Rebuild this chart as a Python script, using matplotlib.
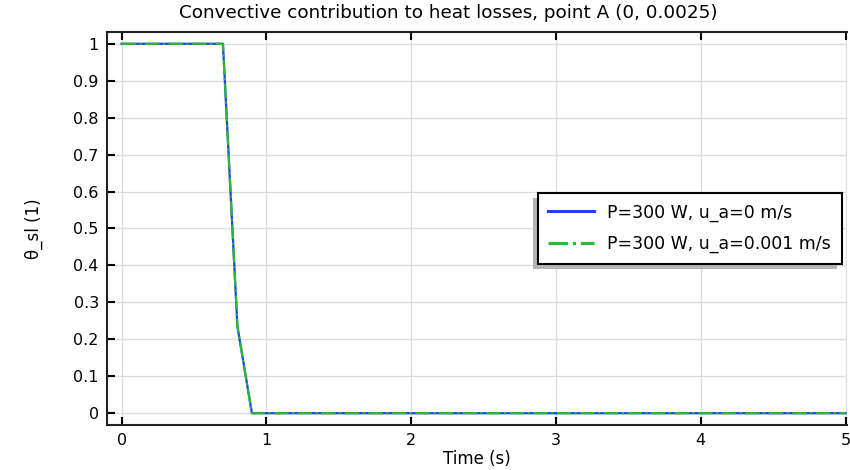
import matplotlib
matplotlib.use("Agg")
import matplotlib.pyplot as plt
from matplotlib.patches import Rectangle

# Data
time_s = [0.0, 0.1, 0.2, 0.3, 0.4, 0.5, 0.6, 0.7, 0.8, 0.9, 1.0, 2.0, 3.0, 4.0, 5.0]
theta_ua0 = [1, 1, 1, 1, 1, 1, 1, 1, 0.235, 0, 0, 0, 0, 0, 0]
theta_ua001 = [1, 1, 1, 1, 1, 1, 1, 1, 0.235, 0, 0, 0, 0, 0, 0]
series_labels = ["P=300 W, u_a=0 m/s", "P=300 W, u_a=0.001 m/s"]
x_ticks = [0, 1, 2, 3, 4, 5]
y_ticks = [0, 0.1, 0.2, 0.3, 0.4, 0.5, 0.6, 0.7, 0.8, 0.9, 1]

plt.rcParams["font.family"] = "DejaVu Sans"

fig = plt.figure(figsize=(8.5, 4.7), dpi=100)
ax = fig.add_axes([0.126, 0.0957, 0.8705, 0.8363])

ax.plot(time_s, theta_ua0, color="#1f3fff", linewidth=1.6, label=series_labels[0])
ax.plot(time_s, theta_ua001, color="#2db92d", linewidth=1.6, linestyle="-.",
        label=series_labels[1])

ax.set_xlim(-0.1, 5.01)
ax.set_ylim(-0.032, 1.032)
ax.set_xticks(x_ticks)
ax.set_yticks(y_ticks)
ax.set_yticklabels([f"{v:g}" for v in y_ticks])

ax.grid(True, color="#dcdcdc", linewidth=1)
ax.set_axisbelow(True)
ax.spines["right"].set_visible(False)
for s in ["left", "bottom", "top"]:
    ax.spines[s].set_linewidth(1.5)
    ax.spines[s].set_color("#222222")
ax.tick_params(direction="in", length=6, width=1.5, labelsize=11.5,
               top=True, right=False, pad=6)

fig.text(0.527, 0.972, "Convective contribution to heat losses, point A (0, 0.0025)",
         fontsize=13.2, ha="center", va="center")
ax.set_xlabel("Time (s)", fontsize=12, labelpad=1)
ax.set_ylabel("θ_sl (1)", fontsize=12, labelpad=22)

leg = ax.legend(loc="upper left", bbox_to_anchor=(0.5824, 0.59), fontsize=12.5,
                fancybox=False, framealpha=1, edgecolor="black", borderaxespad=0,
                handlelength=2.6, borderpad=0.6, labelspacing=0.75)
leg.get_frame().set_linewidth(1.5)
for h in leg.legend_handles:
    h.set_linewidth(2.2)
leg.set_zorder(5)

# Hand-drawn drop shadow (down and to the left, as in the reference)
fig.canvas.draw()
bb = leg.get_window_extent()
W, H = fig.get_size_inches() * fig.dpi
shadow = Rectangle(((bb.x0 - 5) / W, (bb.y0 - 5) / H), bb.width / W, bb.height / H,
                   transform=fig.transFigure, facecolor="#b4b4b4", edgecolor="none",
                   zorder=4, clip_on=False)
ax.add_artist(shadow)
shadow.set_transform(fig.transFigure)

fig.savefig("out.png", dpi=100)
